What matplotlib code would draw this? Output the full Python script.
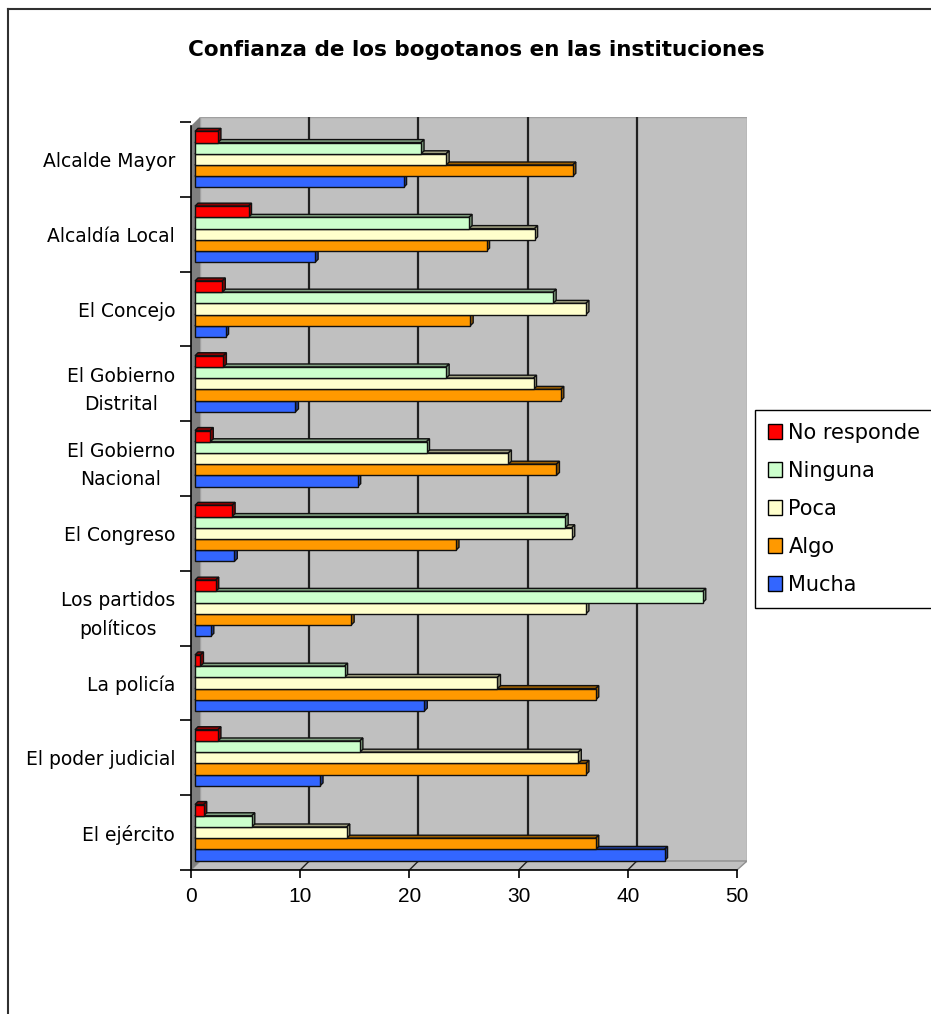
import matplotlib
matplotlib.use("Agg")
import matplotlib.pyplot as plt
from matplotlib.patches import Rectangle, Polygon
from matplotlib.lines import Line2D
import numpy as np

# categories, top to bottom
categorias = ['Alcalde Mayor', 'Alcaldía Local', 'El Concejo', 'El Gobierno\nDistrital',
              'El Gobierno\nNacional', 'El Congreso', 'Los partidos\npolíticos',
              'La policía', 'El poder judicial', 'El ejército']

series = ['No responde', 'Ninguna', 'Poca', 'Algo', 'Mucha']

no_responde = [2.1, 4.9, 2.5, 2.6, 1.4, 3.4, 1.9, 0.5, 2.1, 0.8]
ninguna = [20.7, 25.1, 32.8, 23.0, 21.2, 33.9, 46.5, 13.7, 15.1, 5.2]
poca = [23.0, 31.1, 35.8, 31.0, 28.7, 34.5, 35.8, 27.7, 35.1, 13.9]
algo = [34.6, 26.7, 25.2, 33.5, 33.1, 23.9, 14.3, 36.7, 35.8, 36.7]
mucha = [19.1, 11.0, 2.8, 9.2, 14.9, 3.6, 1.45, 21.0, 11.45, 43.0]

valores = [no_responde, ninguna, poca, algo, mucha]
colores = ['#FF0000', '#CCFFCC', '#FFFFCC', '#FF9900', '#3366FF']
sombras = ['#8C0000', '#7F9F7F', '#A0A080', '#9C5E00', '#1F3D99']

W, H = 931, 1014
fig = plt.figure(figsize=(W / 100, H / 100), dpi=100)
fig.patch.set_facecolor('white')

def yu(px):
    # pixel row -> category units
    return (px - 122) / 74.8 - 0.5

ax_l, ax_r, ax_t, ax_b = 191, 747, 117, 870
ax = fig.add_axes([ax_l / W, 1 - ax_b / H, (ax_r - ax_l) / W, (ax_b - ax_t) / H])
ax.set_facecolor('none')
pxu = 10.92
ax.set_xlim(0, (ax_r - ax_l) / pxu)
ax.set_ylim(yu(ax_b), yu(ax_t))

# 3d geometry
dx_wall = 9 / pxu
y_back = yu(861)
y_front = yu(870)
xmax = (ax_r - ax_l) / pxu

# back wall
ax.add_patch(Polygon([(dx_wall, yu(117)), (xmax, yu(117)), (xmax, y_back), (dx_wall, y_back)],
                     closed=True, facecolor='#C0C0C0', edgecolor='#A0A0A0', lw=1, zorder=0))
# floor
ax.add_patch(Polygon([(0, y_front), (50, y_front), (xmax, y_back), (dx_wall, y_back)],
                     closed=True, facecolor='#C0C0C0', edgecolor='#909090', lw=1, zorder=0))
# left wall
ax.add_patch(Polygon([(0, yu(126)), (dx_wall, yu(117)), (dx_wall, y_back), (0, y_front)],
                     closed=True, facecolor='#808080', edgecolor='none', zorder=0.5))

# gridlines on back wall + floor
for g in range(10, 50, 10):
    ax.plot([g + dx_wall, g + dx_wall], [yu(117), y_back], color='#202020', lw=1.6, zorder=1)
    ax.plot([g, g + dx_wall], [y_front, y_back], color='#202020', lw=1, zorder=1)

# bars with fake depth
x0 = 4 / pxu
h = 0.15
ddx = 3 / pxu
ddy = 3 / 74.8
for i in range(len(categorias)):
    for k in range(len(series) - 1, -1, -1):
        v = valores[k][i]
        top = i + (k - 2.5) * h
        x1 = x0 + v
        ax.add_patch(Polygon([(x0, top), (x0 + ddx, top - ddy), (x1 + ddx, top - ddy), (x1, top)],
                             closed=True, facecolor=sombras[k], edgecolor='#101010', lw=1, zorder=2))
        ax.add_patch(Polygon([(x1, top), (x1 + ddx, top - ddy), (x1 + ddx, top + h - ddy), (x1, top + h)],
                             closed=True, facecolor=sombras[k], edgecolor='#101010', lw=1, zorder=2))
        ax.add_patch(Rectangle((x0, top), v, h, facecolor=colores[k], edgecolor='#101010',
                               lw=1, zorder=3))

# axes styling
for s in ['top', 'right']:
    ax.spines[s].set_visible(False)
ax.spines['bottom'].set_bounds(0, 50)
ax.spines['left'].set_bounds(yu(126), y_front)
ax.spines['bottom'].set_linewidth(1.2)
ax.spines['left'].set_linewidth(1.2)

ax.set_xticks(range(0, 51, 10))
ax.tick_params(axis='x', direction='out', length=6, width=1.2, pad=6, labelsize=15)
for lab in ax.get_xticklabels():
    lab.set_family('Liberation Sans')

ax.set_yticks(range(len(categorias)))
ax.set_yticklabels(categorias, fontsize=13.5, linespacing=1.6)
for lab in ax.get_yticklabels():
    lab.set_multialignment('center')
ax.set_yticks(np.arange(-0.5, len(categorias), 1), minor=True)
ax.tick_params(axis='y', which='major', length=0, pad=11.5)
ax.tick_params(axis='y', which='minor', direction='out', length=8, width=1.2)

# title
fig.text(476 / W, 1 - 50 / H, 'Confianza de los bogotanos en las instituciones',
         ha='center', va='center', fontsize=15.5, fontweight='bold')

# legend
handles = [Rectangle((0, 0), 1, 1, facecolor=c, edgecolor='black', lw=1) for c in colores]
leg = fig.legend(handles, series, loc='upper left', bbox_to_anchor=(755 / W, 1 - 410 / H),
                 fontsize=15, frameon=True, fancybox=False, framealpha=1, edgecolor='black',
                 handlelength=0.7, handleheight=0.7, handletextpad=0.3, labelspacing=0.87,
                 borderpad=0.6, borderaxespad=0)
leg.get_frame().set_linewidth(1)

# outer border (left and top visible)
fig.add_artist(Line2D([8 / W, 8 / W], [0, 1 - 9 / H], color='#303030', lw=1.5))
fig.add_artist(Line2D([8 / W, 1], [1 - 9 / H, 1 - 9 / H], color='#303030', lw=1.5))

fig.savefig('out.png', dpi=100)
